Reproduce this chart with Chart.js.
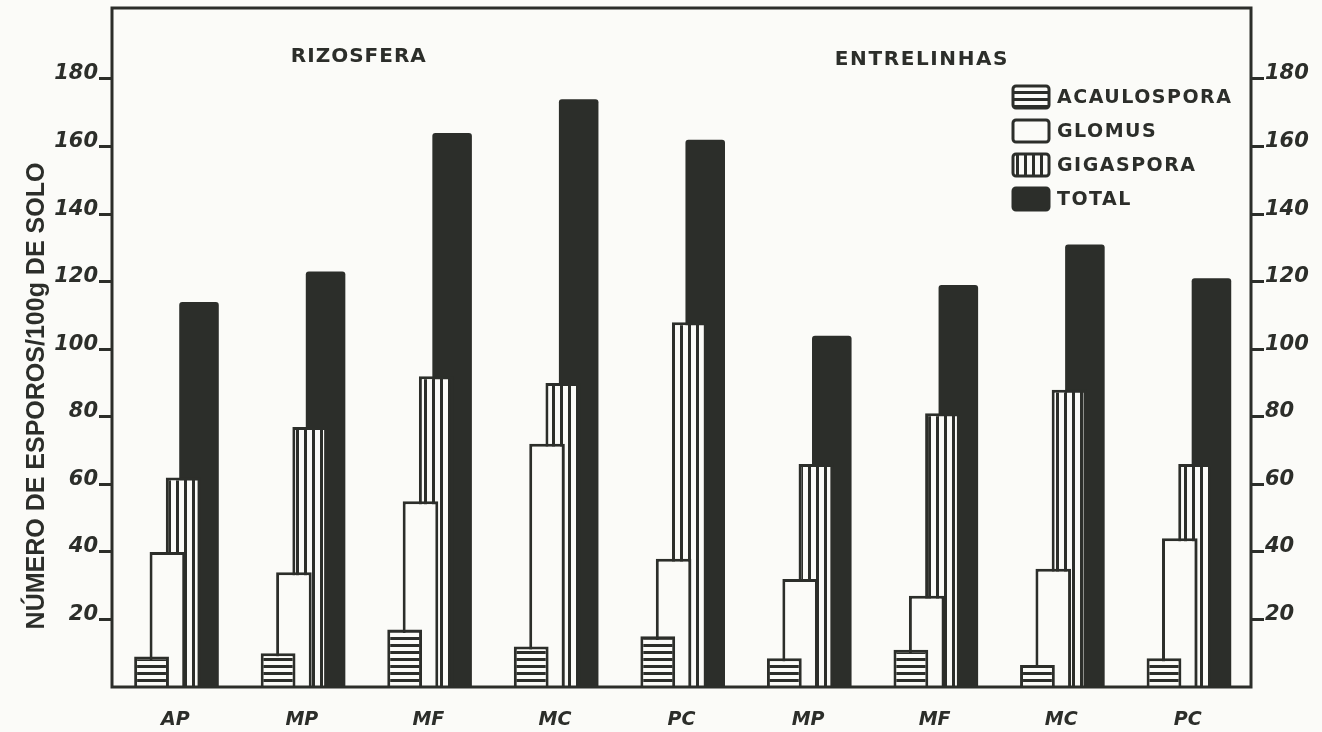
<!DOCTYPE html>
<html>
<head>
<meta charset="utf-8">
<script src="https://cdn.jsdelivr.net/npm/chart.js@4/dist/chart.umd.min.js"></script>
<style>
  html, body { margin: 0; background: #fbfbf8; }
  #wrap { width: 1322px; height: 732px; position: relative; }
</style>
</head>
<body>
<div id="wrap"><canvas id="esporos-chart"></canvas></div>
<script>
// data (esporos / 100 g de solo)
const categories = ['AP', 'MP', 'MF', 'MC', 'PC', 'MP', 'MF', 'MC', 'PC'];
const acaulospora = [9, 10, 17, 12, 15, 8.5, 11, 6.5, 8.5];
const glomus = [40, 34, 55, 72, 38, 32, 27, 35, 44];
const gigaspora = [62, 77, 92, 90, 108, 66, 81, 88, 66];
const total = [114, 123, 164, 174, 162, 104, 119, 131, 121];
const seriesNames = ['ACAULOSPORA', 'GLOMUS', 'GIGASPORA', 'TOTAL'];
const yTicks = [20, 40, 60, 80, 100, 120, 140, 160, 180];
const regionNames = ['RIZOSFERA', 'ENTRELINHAS'];
const yTitle = 'NÚMERO DE ESPOROS/100g DE SOLO';

const ink = '#2c2e2a';
const paper = '#fbfbf8';

function stripes(vertical) {
  const c = document.createElement('canvas');
  const size = vertical ? 8 : 7;
  c.width = size; c.height = size;
  const g = c.getContext('2d');
  g.fillStyle = paper;
  g.fillRect(0, 0, size, size);
  g.fillStyle = ink;
  if (vertical) g.fillRect(0, 0, 3, size);
  else g.fillRect(0, 0, size, 3);
  return g.createPattern(c, 'repeat');
}

const hLines = stripes(false);
const vLines = stripes(true);

// frame, region names, y title and legend
const decorations = {
  id: 'decorations',
  afterDraw(chart) {
    const { ctx, chartArea: a, scales } = chart;
    ctx.save();
    ctx.strokeStyle = ink;
    ctx.lineWidth = 3;
    ctx.strokeRect(a.left, a.top, a.right - a.left, a.bottom - a.top);

    ctx.fillStyle = ink;
    ctx.font = 'bold 20px "DejaVu Sans"';
    ctx.letterSpacing = '1px';
    ctx.textAlign = 'center';
    ctx.textBaseline = 'middle';
    ctx.fillText(regionNames[0], scales.x.getPixelForValue(1.45), 57);
    ctx.letterSpacing = '1.6px';
    ctx.fillText(regionNames[1], scales.x.getPixelForValue(5.9), 60);

    // y title
    ctx.save();
    ctx.translate(37, 396);
    ctx.rotate(-Math.PI / 2);
    ctx.letterSpacing = '0px';
    ctx.font = 'bold 25px "Liberation Sans"';
    ctx.fillText(yTitle, 0, 0);
    ctx.restore();

    // legend
    const fills = [hLines, paper, vLines, ink];
    const lx = a.right - 238;
    ctx.font = 'bold 19px "DejaVu Sans"';
    ctx.letterSpacing = '1.5px';
    ctx.textAlign = 'left';
    seriesNames.forEach((name, i) => {
      const cy = 97 + i * 34;
      ctx.beginPath();
      ctx.roundRect(lx, cy - 11, 36, 22, 3);
      ctx.fillStyle = fills[i];
      ctx.fill();
      ctx.lineWidth = 3;
      ctx.strokeStyle = ink;
      ctx.stroke();
      ctx.fillStyle = ink;
      ctx.fillText(name, lx + 44, cy + 1);
    });
    ctx.restore();
  }
};

const tickFont = { family: 'DejaVu Sans', size: 21, weight: 'bold', style: 'italic' };

const yAxis = (position, width) => ({
  position: position,
  min: 0,
  max: 201,
  afterBuildTicks: scale => { scale.ticks = yTicks.map(v => ({ value: v })); },
  afterFit: scale => {
    scale.width = width;
    scale.paddingTop = 0;
    scale.paddingBottom = 0;
  },
  border: { display: false },
  grid: { drawOnChartArea: false, drawTicks: true, tickLength: 13, tickWidth: 3, tickColor: ink },
  ticks: { color: ink, font: tickFont, padding: 1, labelOffset: -5 }
});

new Chart(document.getElementById('esporos-chart'), {
  type: 'bar',
  data: {
    labels: categories,
    datasets: [
      { label: seriesNames[0], data: acaulospora, backgroundColor: hLines, borderColor: ink, borderWidth: 3, barPercentage: 2.2 },
      { label: seriesNames[1], data: glomus, backgroundColor: paper, borderColor: ink, borderWidth: 3, barPercentage: 2.25 },
      { label: seriesNames[2], data: gigaspora, backgroundColor: vLines, borderColor: ink, borderWidth: 3, barPercentage: 2.2 },
      { label: seriesNames[3], data: total, backgroundColor: ink, borderWidth: 0, barPercentage: 2.5,
        borderRadius: { topLeft: 3, topRight: 3 } }
    ]
  },
  options: {
    responsive: true,
    maintainAspectRatio: false,
    animation: false,
    layout: { padding: { top: 8 } },
    datasets: { bar: { categoryPercentage: 0.5 } },
    plugins: {
      legend: { display: false },
      tooltip: { enabled: false }
    },
    scales: {
      x: {
        afterFit: scale => { scale.height = 45; },
        border: { display: false },
        grid: { display: false },
        ticks: { color: ink, font: { family: 'DejaVu Sans', size: 19, weight: 'bold', style: 'italic' }, padding: 14 }
      },
      y: yAxis('left', 112),
      y2: yAxis('right', 71)
    }
  },
  plugins: [decorations]
});
</script>
</body>
</html>
